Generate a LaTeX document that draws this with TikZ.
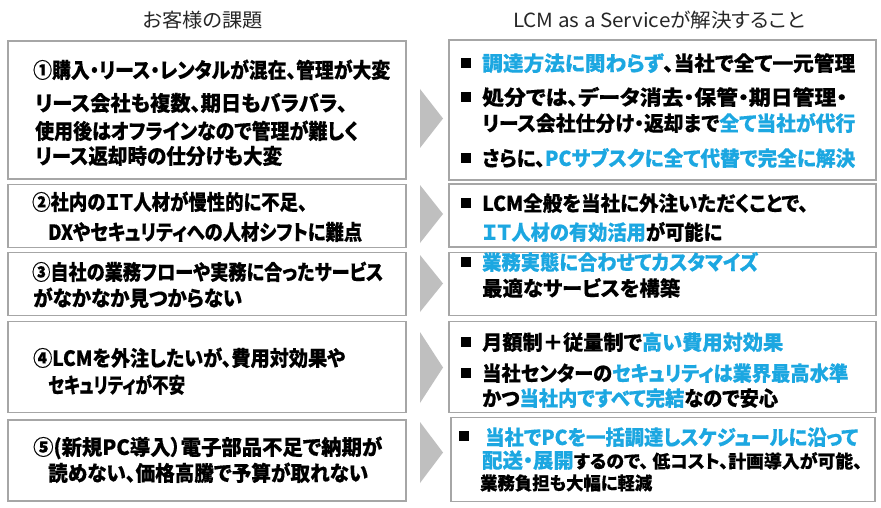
\documentclass[tikz,border=0pt]{standalone}
\usepackage{fontspec}
\usepackage{graphicx}
\setmainfont{Noto Sans CJK JP}[RawFeature={+palt}, BoldFeatures={FakeBold=0.4}]
\definecolor{hl}{RGB}{28,167,225}
\definecolor{boxline}{RGB}{166,166,166}
\definecolor{arrowgray}{RGB}{191,191,191}
\newsavebox{\fitbox}
\newcommand{\fitw}[2]{\sbox{\fitbox}{#2}\pgfmathsetmacro{\fitr}{#1/\the\wd\fitbox}\scalebox{\fitr}[1]{\usebox{\fitbox}}}
\tikzset{
  box/.style={draw=boxline, line width=1.3pt, inner sep=0pt, fill=white},
  ltxt/.style={anchor=west, inner sep=0pt, font=\bfseries\fontsize{21}{23}\selectfont, text height=18.4pt, text depth=2.5pt},
  rtxt/.style={ltxt, font=\bfseries\fontsize{20.5}{23}\selectfont},
  small/.style={ltxt, font=\bfseries\fontsize{18}{20}\selectfont, text height=15.8pt, text depth=2.2pt},
  head/.style={inner sep=0pt, font=\fontsize{19.5}{21}\selectfont, text=black!85},
  bul/.style={rectangle, fill=black, minimum size=10.5pt, inner sep=0pt},
  chev/.style={fill=arrowgray}
}
\newcommand{\hl}[1]{\textcolor{hl}{#1}}
\begin{document}
\begin{tikzpicture}[x=1pt,y=-1pt]
\useasboundingbox[fill=white] (0,0) rectangle (881,508);
% headers
\node[head] (h1) at (203,20) {\fitw{120}{お客様の課題}};
\node[head] (h2) at (659,20) {\fitw{292}{LCM as a Serviceが解決すること}};
% left boxes
\node[box, minimum width=398pt, minimum height=138pt] (lb1) at (207,110) {};
\node[box, minimum width=398pt, minimum height=63pt] (lb2) at (207,215.7) {};
\node[box, minimum width=398pt, minimum height=63pt] (lb3) at (207,284.2) {};
\node[box, minimum width=398pt, minimum height=91pt] (lb4) at (207,367.2) {};
\node[box, minimum width=398pt, minimum height=81pt] (lb5) at (207,460.5) {};
% right boxes
\node[box, minimum width=427pt, minimum height=140pt] (rb1) at (662.5,110) {};
\node[box, minimum width=427pt, minimum height=63pt] (rb2) at (662.5,215.5) {};
\node[box, minimum width=427pt, minimum height=63pt] (rb3) at (662.5,284.2) {};
\node[box, minimum width=427pt, minimum height=91pt] (rb4) at (662.5,367.2) {};
\node[box, minimum width=424pt, minimum height=84pt] (rb5) at (663,459.8) {};
% chevrons
\fill[chev] (420,89) -- (443,118.5) -- (420,148) -- cycle;
\fill[chev] (420,185) -- (443,214) -- (420,243) -- cycle;
\fill[chev] (420,255) -- (443,283.5) -- (420,312) -- cycle;
\fill[chev] (420,332) -- (443,367.5) -- (420,403) -- cycle;
\fill[chev] (420,422) -- (443,452.5) -- (420,483) -- cycle;
% left texts
\node[ltxt] (l1a) at (33,70) {\fitw{357}{①購入・リース・レンタルが混在、管理が大変}};
\node[ltxt] (l1b) at (35,103) {\fitw{312}{リース会社も複数、期日もバラバラ、}};
\node[ltxt] (l1c) at (35,131) {\fitw{323}{使用後はオフラインなので管理が難しく}};
\node[ltxt] (l1d) at (35,156) {\fitw{247}{リース返却時の仕分けも大変}};
\node[ltxt] (l2a) at (32,202) {\fitw{275}{②社内のＩＴ人材が慢性的に不足、}};
\node[ltxt] (l2b) at (48,232) {\fitw{314}{DXやセキュリティへの人材シフトに難点}};
\node[ltxt] (l3a) at (32,272) {\fitw{351}{③自社の業務フローや実務に合ったサービス}};
\node[ltxt] (l3b) at (33,298) {\fitw{209}{がなかなか見つからない}};
\node[ltxt] (l4a) at (33,358) {\fitw{312}{④LCMを外注したいが、費用対効果や}};
\node[ltxt] (l4b) at (48,385) {\fitw{137}{セキュリティが不安}};
\node[ltxt] (l5a) at (33,447) {\fitw{349}{⑤(新規PC導入）電子部品不足で納期が}};
\node[ltxt] (l5b) at (48,473) {\fitw{320}{読めない、価格高騰で予算が取れない}};
% right bullets
\node[bul] (b1a) at (466,63) {};
\node[bul] (b1b) at (466,97) {};
\node[bul] (b1d) at (466,158) {};
\node[bul] (b2a) at (466,203) {};
\node[bul] (b3a) at (466,262) {};
\node[bul] (b4a) at (466,342) {};
\node[bul] (b4b) at (466,373) {};
\node[bul] (b5a) at (464,436) {};
% right texts
\node[rtxt] (r1a) at (482,63) {\fitw{373}{\hl{調達方法に関わらず}、当社で全て一元管理}};
\node[rtxt] (r1b) at (482,97) {\fitw{365}{処分では、データ消去・保管・期日管理・}};
\node[rtxt] (r1c) at (482,123) {\fitw{373}{リース会社仕分け・返却まで\hl{全て当社が代行}}};
\node[rtxt] (r1d) at (482,158) {\fitw{373}{さらに、\hl{PCサブスクに全て代替で完全に解決}}};
\node[rtxt] (r2a) at (482,203) {\fitw{326}{LCM全般を当社に外注いただくことで、}};
\node[rtxt] (r2b) at (482,232) {\fitw{240}{\hl{ＩＴ人材の有効活用}が可能に}};
\node[rtxt] (r3a) at (482,262) {\fitw{276}{\hl{業務実態に合わせてカスタマイズ}}};
\node[rtxt] (r3b) at (482,288) {\fitw{198}{最適なサービスを構築}};
\node[rtxt] (r4a) at (482,342) {\fitw{301}{月額制＋従量制で\hl{高い費用対効果}}};
\node[rtxt] (r4b) at (482,373) {\fitw{366}{当社センターの\hl{セキュリティは業界最高水準}}};
\node[rtxt] (r4c) at (482,398) {\fitw{296}{かつ\hl{当社内ですべて完結}なので安心}};
\node[rtxt] (r5a) at (485,437) {\fitw{373}{\hl{当社でPCを一括調達しスケジュールに沿って}}};
\node[rtxt] (r5b) at (482,460) {\fitw{380}{\hl{配送・展開}{\fontsize{18}{20}\selectfont するので、 低コスト、計画導入が可能、}}};
\node[small] (r5c) at (480,483) {\fitw{172}{業務負担も大幅に軽減}};
\end{tikzpicture}
\end{document}
